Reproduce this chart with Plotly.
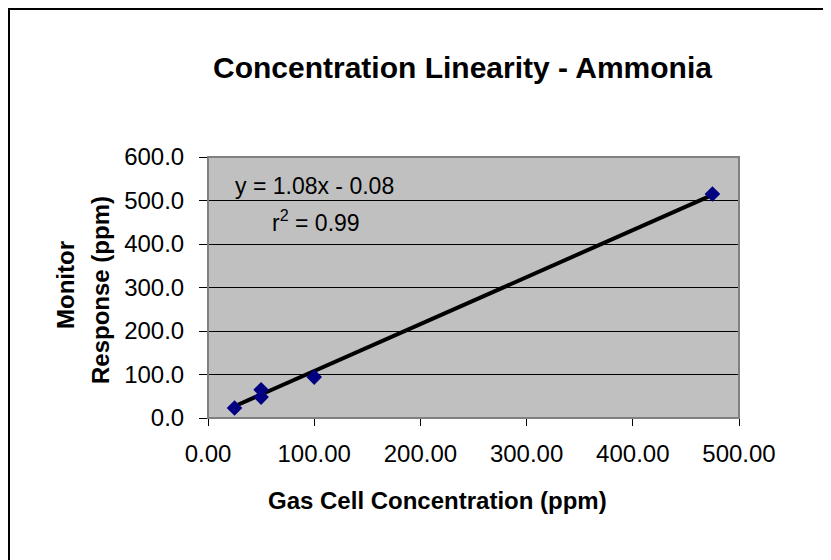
import plotly.graph_objects as go

# ---- data ----
gas_conc = [25, 50, 50, 100, 475]          # Gas Cell Concentration (ppm)
monitor_resp = [23, 65, 48, 94, 515]       # Monitor Response (ppm)
trend_slope = 1.08
trend_intercept = -0.08
r_squared = 0.99
x_tick_vals = [0, 100, 200, 300, 400, 500]
y_tick_vals = [0, 100, 200, 300, 400, 500, 600]

FONT = "Liberation Sans, Arial, sans-serif"

# page offset of the figure inside the html body
OFF = 8
W, H = 831, 560
# target plot-area in page pixels: x 208..739, y 157..418
L = 208 - OFF
R = W - (739 - OFF)
T = 157 - OFF
B = H - (418 - OFF)
PW, PH = W - L - R, H - T - B


def px(x):
    return (x - OFF - L) / PW


def py(y):
    return (H - B - (y - OFF)) / PH


trend_x = [min(gas_conc), max(gas_conc)]
trend_y = [trend_slope * v + trend_intercept for v in trend_x]

fig = go.Figure()
fig.add_trace(go.Scatter(x=trend_x, y=trend_y, mode="lines",
                         line=dict(color="black", width=4),
                         hoverinfo="skip", showlegend=False))
fig.add_trace(go.Scatter(x=gas_conc, y=monitor_resp, mode="markers",
                         marker=dict(symbol="diamond", size=12, color="#000080",
                                     line=dict(width=0)),
                         showlegend=False))

sign = "-" if trend_intercept < 0 else "+"
eq_text = f"y = {trend_slope:.2f}x {sign} {abs(trend_intercept):.2f}"
r2_text = f"r<sup>2</sup> = {r_squared:.2f}"

fig.update_layout(
    width=W, height=H,
    margin=dict(l=L, r=R, t=T, b=B, pad=0),
    paper_bgcolor="white",
    plot_bgcolor="#C0C0C0",
    font=dict(family=FONT, size=24, color="black"),
    xaxis=dict(range=[0, 500], tickvals=x_tick_vals, tickformat=".2f",
               showgrid=False, zeroline=False, showline=True, linecolor="black",
               linewidth=1, ticks="outside", ticklen=7, tickcolor="black",
               tickfont=dict(size=24), ticklabelstandoff=7),
    yaxis=dict(range=[0, 600], tickvals=y_tick_vals, tickformat=".1f",
               showgrid=True, gridcolor="black", gridwidth=1, zeroline=False,
               showline=True, linecolor="black", linewidth=1,
               ticks="outside", ticklen=8, tickcolor="black",
               tickfont=dict(size=24), ticklabelstandoff=10),
    shapes=[
        dict(type="rect", xref="paper", yref="paper", x0=0, x1=1, y0=0, y1=1,
             line=dict(color="#808080", width=2), layer="above"),
        dict(type="rect", xref="paper", yref="paper",
             x0=px(9), x1=px(900), y0=py(640), y1=py(9),
             line=dict(color="black", width=2), layer="above"),
    ],
    annotations=[
        dict(text="<b>Concentration Linearity - Ammonia</b>", xref="paper", yref="paper",
             x=px(462), y=py(67), showarrow=False, xanchor="center", yanchor="middle",
             font=dict(size=30)),
        dict(text="<b>Gas Cell Concentration (ppm)</b>", xref="paper", yref="paper",
             x=px(437), y=py(500), showarrow=False, xanchor="center", yanchor="middle",
             font=dict(size=24)),
        dict(text="<b>Monitor</b>", xref="paper", yref="paper", textangle=-90,
             x=px(65), y=py(285), showarrow=False, xanchor="center", yanchor="middle",
             font=dict(size=24)),
        dict(text="<b>Response (ppm)</b>", xref="paper", yref="paper", textangle=-90,
             x=px(100), y=py(290), showarrow=False, xanchor="center", yanchor="middle",
             font=dict(size=24)),
        dict(text=eq_text, xref="paper", yref="paper",
             x=px(314), y=py(186), showarrow=False, xanchor="center", yanchor="middle",
             font=dict(size=23)),
        dict(text=r2_text, xref="paper", yref="paper",
             x=px(316), y=py(221), showarrow=False, xanchor="center", yanchor="middle",
             font=dict(size=23)),
    ],
)

fig.write_html("out.html")
